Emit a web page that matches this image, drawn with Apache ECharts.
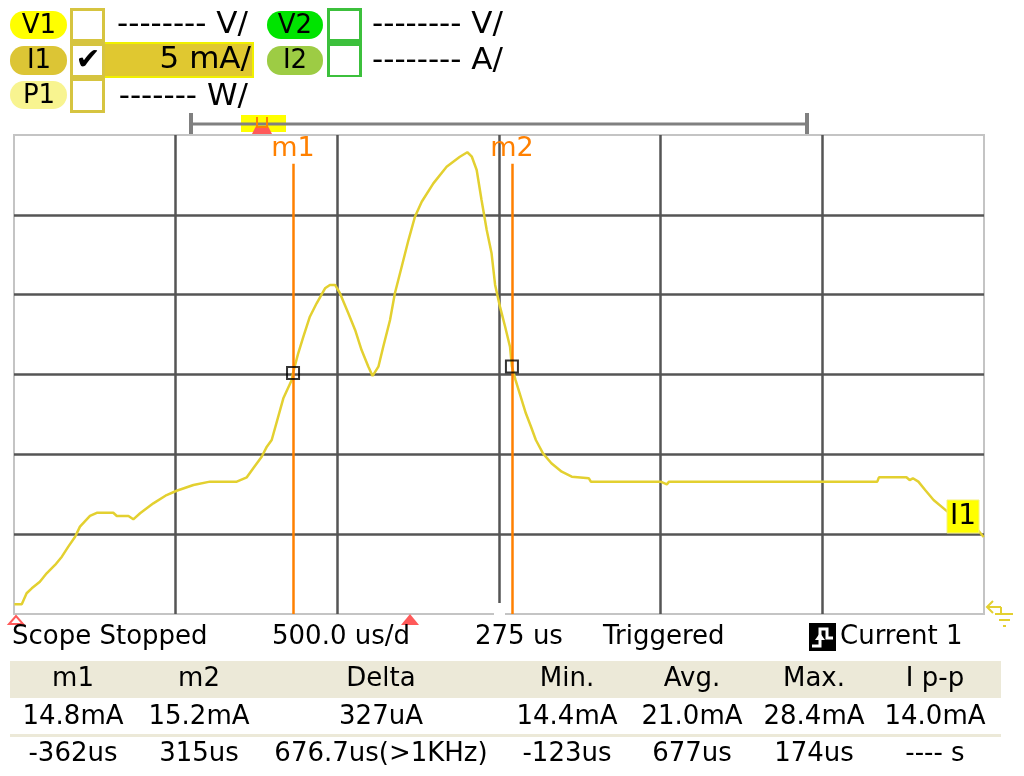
<!DOCTYPE html>
<html>
<head>
<meta charset="utf-8">
<script src="https://cdn.jsdelivr.net/npm/echarts@6/dist/echarts.min.js"></script>
<style>
  html, body { margin: 0; padding: 0; background: #fff; }
  #scope { width: 1024px; height: 776px; }
</style>
</head>
<body>
<div id="scope"></div>
<script>
// trace I1, time in us (trigger = 0), current in mA
const timeUs = [
  -1224, -1201, -1186, -1170, -1145, -1124, -1098, -1077, -1057, -1036,
  -1021, -990, -969, -918, -907, -871, -856, -835, -794, -753,
  -722, -670, -619, -536, -505, -485, -459, -443, -428, -392,
  -366, -362, -346, -330, -310, -289, -263, -248, -232, -217,
  -191, -170, -150, -129, -116, -98, -83, -62, -47, -26,
  -5, 15, 36, 72, 113, 154, 177, 191, 206, 221,
  237, 252, 263, 278, 294, 309, 315, 326, 342, 358,
  374, 389, 411, 437, 469, 500, 553, 559, 775, 794,
  801, 1445, 1450, 1535, 1545, 1555, 1572, 1593, 1619, 1662,
  1756, 1774
]
const currentMa = [
  0.61, 0.61, 1.30, 1.61, 2.02, 2.55, 3.07, 3.59, 4.22, 4.84,
  5.47, 6.14, 6.34, 6.34, 6.14, 6.14, 5.93, 6.31, 6.93, 7.45,
  7.72, 8.08, 8.29, 8.29, 8.56, 9.13, 9.85, 10.48, 10.90, 13.51,
  14.66, 15.1, 16.33, 17.37, 18.62, 19.46, 20.40, 20.61, 20.61, 20.09,
  18.83, 17.79, 16.53, 15.49, 14.91, 15.49, 16.74, 18.41, 20.09, 21.75,
  23.42, 24.88, 25.82, 26.97, 28.01, 28.64, 28.92, 28.64, 27.81, 25.93,
  24.05, 22.59, 20.61, 19.25, 17.99, 16.74, 15.5, 14.66, 13.61, 12.57,
  11.73, 10.90, 10.06, 9.44, 8.91, 8.60, 8.50, 8.29, 8.29, 8.12,
  8.29, 8.29, 8.56, 8.56, 8.39, 8.50, 8.29, 7.77, 7.14, 6.41,
  5.26, 4.82
]

// cursors
const markerNames = ['m1', 'm2']
const markerTimes = [-362, 315]
const markerCurrents = [15.1, 15.5]
const markerTop = 28.2

// axis: 500 us/div centred on 275 us, 5 mA/div
const xMin = -1225
const xMax = 1775
const xStep = 500
const yMin = 0
const yMax = 30
const yStep = 5

// status line and measurement table
const statusTexts = ['Scope Stopped', '500.0 us/d', '275 us', 'Triggered', 'Current 1']
const tableHeaders = ['m1', 'm2', 'Delta', 'Min.', 'Avg.', 'Max.', 'I p-p']
const tableValues = ['14.8mA', '15.2mA', '327uA', '14.4mA', '21.0mA', '28.4mA', '14.0mA']
const tableTimes = ['-362us', '315us', '676.7us(>1KHz)', '-123us', '677us', '174us', '---- s']

const FONT = 'DejaVu Sans'
const TRACE = '#e3d030'
const ORANGE = '#ff8000'

function txt(text, x, y, size, opts) {
  opts = opts || {}
  const align = opts.align || 'left'
  return {
    type: 'text', x: x, y: y, z: 100,
    style: {
      text: text,
      fill: opts.color || '#000',
      font: (opts.weight || 'normal') + ' ' + size + 'px "' + FONT + '"',
      align: align, textAlign: align,
      verticalAlign: 'middle', textVerticalAlign: 'middle'
    }
  }
}
function box(x, y, w, h, fill, extra) {
  extra = extra || {}
  return {
    type: 'rect', z: extra.z || 90,
    shape: { x: x, y: y, width: w, height: h, r: extra.r || 0 },
    style: { fill: fill, stroke: extra.stroke || null, lineWidth: extra.lw || 0 }
  }
}
function seg(x1, y1, x2, y2, color, w) {
  return {
    type: 'line', z: 95,
    shape: { x1: x1, y1: y1, x2: x2, y2: y2 },
    style: { stroke: color, lineWidth: w }
  }
}

const chartDom = document.getElementById('scope')
const myChart = echarts.init(chartDom)

const colX = [73, 199, 381, 567, 692, 814, 935]
const decor = [
  // channel badges and boxes
  box(10, 11, 57, 28, '#ffff00', { r: 14 }),
  box(10, 46, 57, 29, '#dcc535', { r: 14 }),
  box(10, 81, 57, 28, '#f8f490', { r: 14 }),
  box(267, 11, 56, 28, '#00e400', { r: 14 }),
  box(267, 46, 56, 29, '#9dcc44', { r: 14 }),
  txt('V1', 39, 26, 26, { align: 'center' }),
  txt('I1', 39, 61, 26, { align: 'center' }),
  txt('P1', 39, 96, 26, { align: 'center' }),
  txt('V2', 295, 26, 26, { align: 'center' }),
  txt('I2', 295, 61, 26, { align: 'center' }),
  box(104, 43, 149, 34, '#e0c830', { stroke: '#f0f000', lw: 2 }),
  box(70, 8, 35, 105, '#d6c440'),
  box(73, 11, 29, 28, '#fff'),
  box(73, 46, 29, 29, '#fff'),
  box(73, 81, 29, 29, '#fff'),
  box(327, 8, 35, 69, '#3cc03c'),
  box(330, 11, 29, 28, '#fff'),
  box(330, 46, 29, 29, '#fff'),
  txt('✔', 88, 61, 30, { align: 'center' }),
  txt('-------- V/', 248, 25, 31, { align: 'right' }),
  txt('5 mA/', 251, 60, 31, { align: 'right' }),
  txt('------- W/', 248, 97, 31, { align: 'right' }),
  txt('-------- V/', 503, 25, 31, { align: 'right' }),
  txt('-------- A/', 503, 61, 31, { align: 'right' }),
  // memory bar and trigger position
  seg(190, 124, 808, 124, '#808080', 3),
  seg(191, 113, 191, 134, '#808080', 4),
  seg(807, 113, 807, 134, '#808080', 4),
  box(241, 115, 45, 17, '#ffff00'),
  { type: 'polygon', z: 96, shape: { points: [[252, 134], [272, 134], [268, 126], [256, 126]] }, style: { fill: '#ff5a5a' } },
  { type: 'polyline', z: 97, shape: { points: [[257, 117], [257, 127], [267, 127], [267, 117]] }, style: { stroke: ORANGE, lineWidth: 2, fill: null } },
  // trigger markers
  { type: 'polygon', z: 96, shape: { points: [[401, 625], [419, 625], [410, 614]] }, style: { fill: '#ff5a5a' } },
  { type: 'polygon', z: 96, shape: { points: [[9, 624], [23, 624], [16, 616]] }, style: { fill: '#fff', stroke: '#ff5a5a', lineWidth: 2 } },
  box(494, 603, 11, 14, '#fff', { z: 50 }),
  // ground symbol
  seg(987, 607, 1001, 607, TRACE, 2),
  { type: 'polyline', z: 97, shape: { points: [[993, 601], [987, 607], [993, 613]] }, style: { stroke: TRACE, lineWidth: 2, fill: null } },
  seg(1001, 607, 1001, 613, TRACE, 2),
  seg(995, 614, 1013, 614, TRACE, 2),
  seg(999, 620, 1010, 620, TRACE, 2),
  seg(1003, 626, 1006, 626, TRACE, 2),
  // I1 tag
  box(947, 500, 32, 33, '#ffff00', { stroke: '#f4f080', lw: 1 }),
  txt('I1', 963, 517, 28, { align: 'center' }),
  // status line
  txt(statusTexts[0], 12, 637, 26),
  txt(statusTexts[1], 272, 637, 26),
  txt(statusTexts[2], 475, 637, 26),
  txt(statusTexts[3], 603, 637, 26),
  box(809, 623, 27, 28, '#000'),
  { type: 'polyline', z: 97, shape: { points: [[812, 646], [820, 646], [820, 629], [827, 629], [827, 638], [833, 638]] }, style: { stroke: '#fff', lineWidth: 3, fill: null } },
  { type: 'polygon', z: 97, shape: { points: [[815, 640], [825, 640], [820, 633]] }, style: { fill: '#fff' } },
  txt(statusTexts[4], 840, 637, 26),
  // table
  box(10, 661, 991, 37, '#ece9d8', { z: 80 }),
  box(10, 734, 991, 3, '#ece9d8', { z: 80 })
]
tableHeaders.forEach(function(t, i) { decor.push(txt(t, colX[i], 679, 26, { align: 'center' })) })
tableValues.forEach(function(t, i) { decor.push(txt(t, colX[i], 717, 26, { align: 'center' })) })
tableTimes.forEach(function(t, i) { decor.push(txt(t, colX[i], 754, 26, { align: 'center' })) })

const axisCommon = {
  type: 'value',
  axisLine: { show: false },
  axisTick: { show: false },
  axisLabel: { show: false },
  splitLine: {
    show: true,
    showMinLine: false,
    showMaxLine: false,
    lineStyle: { color: '#555555', width: 2.5 }
  }
}

const option = {
  animation: false,
  backgroundColor: '#ffffff',
  grid: {
    left: 14,
    top: 135,
    width: 970,
    height: 479,
    show: true,
    backgroundColor: '#ffffff',
    borderColor: '#c4c4c4',
    borderWidth: 2
  },
  xAxis: Object.assign({}, axisCommon, { min: xMin, max: xMax, interval: xStep }),
  yAxis: Object.assign({}, axisCommon, { min: yMin, max: yMax, interval: yStep }),
  series: [
    {
      name: 'I1',
      type: 'line',
      data: timeUs.map(function(t, i) { return [t, currentMa[i]] }),
      showSymbol: false,
      lineStyle: { color: TRACE, width: 2.5 },
      z: 3,
      markLine: {
        silent: true,
        symbol: ['none', 'none'],
        lineStyle: { color: ORANGE, width: 2.5, type: 'solid' },
        label: {
          show: true,
          position: 'end',
          color: ORANGE,
          fontFamily: FONT,
          fontSize: 27,
          distance: 1,
          formatter: function(p) { return p.name }
        },
        data: markerTimes.map(function(t, i) {
          return [
            { name: markerNames[i], coord: [t, yMin] },
            { coord: [t, markerTop] }
          ]
        })
      }
    },
    {
      name: 'cursor',
      type: 'scatter',
      symbol: 'rect',
      symbolSize: 12,
      z: 5,
      itemStyle: { color: 'rgba(0,0,0,0)', borderColor: '#000', borderWidth: 2 },
      data: markerTimes.map(function(t, i) { return [t, markerCurrents[i]] })
    }
  ],
  graphic: { elements: decor }
}

option && myChart.setOption(option)
</script>
</body>
</html>
